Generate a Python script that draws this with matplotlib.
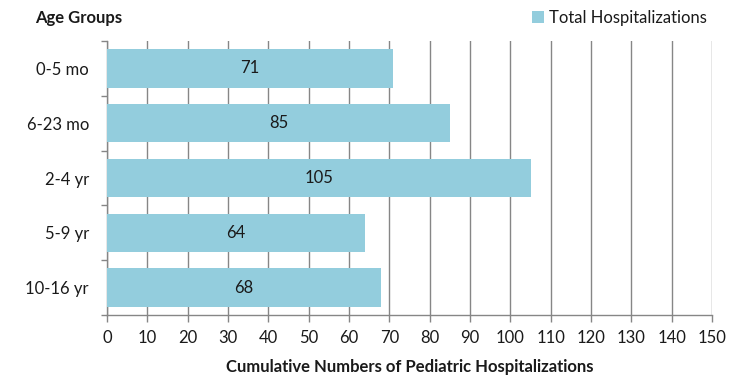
import matplotlib
matplotlib.use("Agg")
import matplotlib.pyplot as plt
from matplotlib.patches import Patch

categories = ["0-5 mo", "6-23 mo", "2-4 yr", "5-9 yr", "10-16 yr"]
values = [71, 85, 105, 64, 68]
xticks = list(range(0, 151, 10))

plt.rcParams['font.family'] = ['Lato', 'DejaVu Sans']
bar_color = "#93CDDD"
grid_color = "#868686"
fs = 12

fig = plt.figure(figsize=(7.5, 3.8), dpi=100)
ax = fig.add_axes([107/750, 1-315/380, (712-107)/750, (315-41)/380])

ypos = list(range(len(categories)))
ax.barh(ypos, values, height=0.7, color=bar_color, zorder=3)
for y, v in zip(ypos, values):
    ax.text(v/2, y, str(v), ha='center', va='center', fontsize=fs, color='#1a1a1a', zorder=4)

ax.set_xlim(0, 150)
ax.set_ylim(len(categories)-0.5, -0.5)
ax.set_xticks(xticks)
ax.set_xticklabels([str(t) for t in xticks], fontsize=fs, color='#1a1a1a')
ax.set_yticks(ypos)
ax.set_yticklabels(categories, fontsize=fs, color='#1a1a1a')
ax.tick_params(axis='y', length=0, pad=13)
ax.set_yticks([i - 0.5 for i in range(len(categories)+1)], minor=True)
ax.tick_params(axis='y', which='minor', length=4, direction='out', color=grid_color, width=1)
ax.tick_params(axis='x', length=5, direction='out', color=grid_color, width=1, pad=6)

ax.grid(axis='x', color=grid_color, linewidth=1, zorder=0)
for s in ['top', 'right']:
    ax.spines[s].set_visible(False)
for s in ['left', 'bottom']:
    ax.spines[s].set_color(grid_color)
    ax.spines[s].set_linewidth(1)

ax.set_xlabel("Cumulative Numbers of Pediatric Hospitalizations", fontsize=fs, fontweight='bold', labelpad=9, color='#1a1a1a')
fig.text(35/750, 1-18/380, "Age Groups", fontsize=fs, fontweight='bold', ha='left', va='center', color='#1a1a1a')

handles = [Patch(facecolor=bar_color, edgecolor='none')]
fig.legend(handles, ["Total Hospitalizations"], loc='center right', bbox_to_anchor=(714/750, 1-18/380),
           frameon=False, fontsize=fs, handlelength=0.75, handleheight=0.75, handletextpad=0.3, borderaxespad=0,
           labelcolor='#1a1a1a')

fig.savefig("out.png", dpi=100, facecolor='white')
